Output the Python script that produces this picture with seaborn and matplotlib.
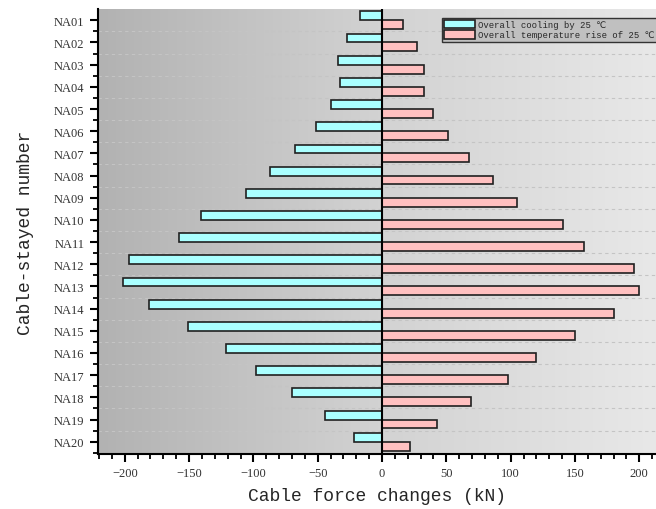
import numpy as np
import pandas as pd
import matplotlib
matplotlib.use("Agg")
import matplotlib.pyplot as plt
import seaborn as sns
from matplotlib.ticker import MultipleLocator, FixedLocator

cables = [f"NA{i:02d}" for i in range(1, 21)]
cooling = [-17, -27, -34, -33, -40, -51, -68, -87, -106, -141,
           -158, -197, -201, -181, -151, -121, -98, -70, -44, -22]
rise = [16, 27, 33, 33, 40, 51, 68, 86, 105, 141,
        157, 196, 200, 180, 150, 120, 98, 69, 43, 22]
series = ["Overall cooling by 25 ℃", "Overall temperature rise of 25 ℃"]

df = pd.DataFrame({
    "cable": cables * 2,
    "value": cooling + rise,
    "series": [series[0]] * 20 + [series[1]] * 20,
})

sns.set_style("ticks")
fig = plt.figure(figsize=(6.56, 5.10), dpi=100)
ax = fig.add_axes([0.149, 0.108, 0.851, 0.872])

xlim = (-221, 213)
ylim = (19.55, -0.5)
grad = np.linspace(0, 1, 256).reshape(1, -1)
cmap = matplotlib.colors.LinearSegmentedColormap.from_list(
    "bg", ["#b2b2b2", "#d2d2d2", "#e8e8e8"])
ax.imshow(grad, cmap=cmap, aspect="auto", extent=[xlim[0], xlim[1], ylim[0], ylim[1]],
          zorder=0)

sns.barplot(data=df, y="cable", x="value", hue="series", orient="h",
            palette=["#aaffff", "#ffc0c0"], saturation=1, width=0.8,
            edgecolor="#202020", linewidth=1.2, ax=ax, zorder=3, legend=True)

ax.set_xlim(*xlim)
ax.set_ylim(*ylim)
ax.axvline(0, color="black", lw=1.5, zorder=4)

ax.yaxis.set_minor_locator(FixedLocator(np.arange(0.5, 20, 1)))
for yv in np.arange(0.5, 19.5, 1):
    ax.axhline(yv, color="#c4c4c4", lw=0.8, ls=(0, (3, 3)), zorder=1)
ax.xaxis.set_major_locator(MultipleLocator(50))
ax.xaxis.set_minor_locator(MultipleLocator(10))

for s in ["top", "right"]:
    ax.spines[s].set_visible(False)
for s in ["left", "bottom"]:
    ax.spines[s].set_linewidth(1.5)
    ax.spines[s].set_color("black")
ax.tick_params(axis="both", which="major", direction="out", length=6, width=1.5,
               colors="black", labelsize=9)
ax.tick_params(axis="both", which="minor", direction="out", length=3.5, width=1.3,
               colors="black")
for lab in ax.get_xticklabels() + ax.get_yticklabels():
    lab.set_fontfamily("Liberation Serif")
    lab.set_color("#333333")

ax.set_xlabel("Cable force changes (kN)", fontsize=13, family="Liberation Mono",
              labelpad=6)
ax.set_ylabel("Cable-stayed number", fontsize=13, family="Liberation Mono",
              labelpad=14)

leg = ax.legend(loc="upper right", bbox_to_anchor=(1.005, 0.985), frameon=True,
                prop={"family": ["Liberation Mono", "DejaVu Sans"], "size": 6.4},
                fancybox=False, edgecolor="#333333", facecolor="#c0c0c0",
                framealpha=1, borderpad=0.25, labelspacing=0.1,
                handlelength=3.4, handleheight=1.1, handletextpad=0.4,
                borderaxespad=0.2)
leg.get_frame().set_linewidth(1.0)
leg.set_zorder(10)

fig.savefig("out.png", dpi=100)
